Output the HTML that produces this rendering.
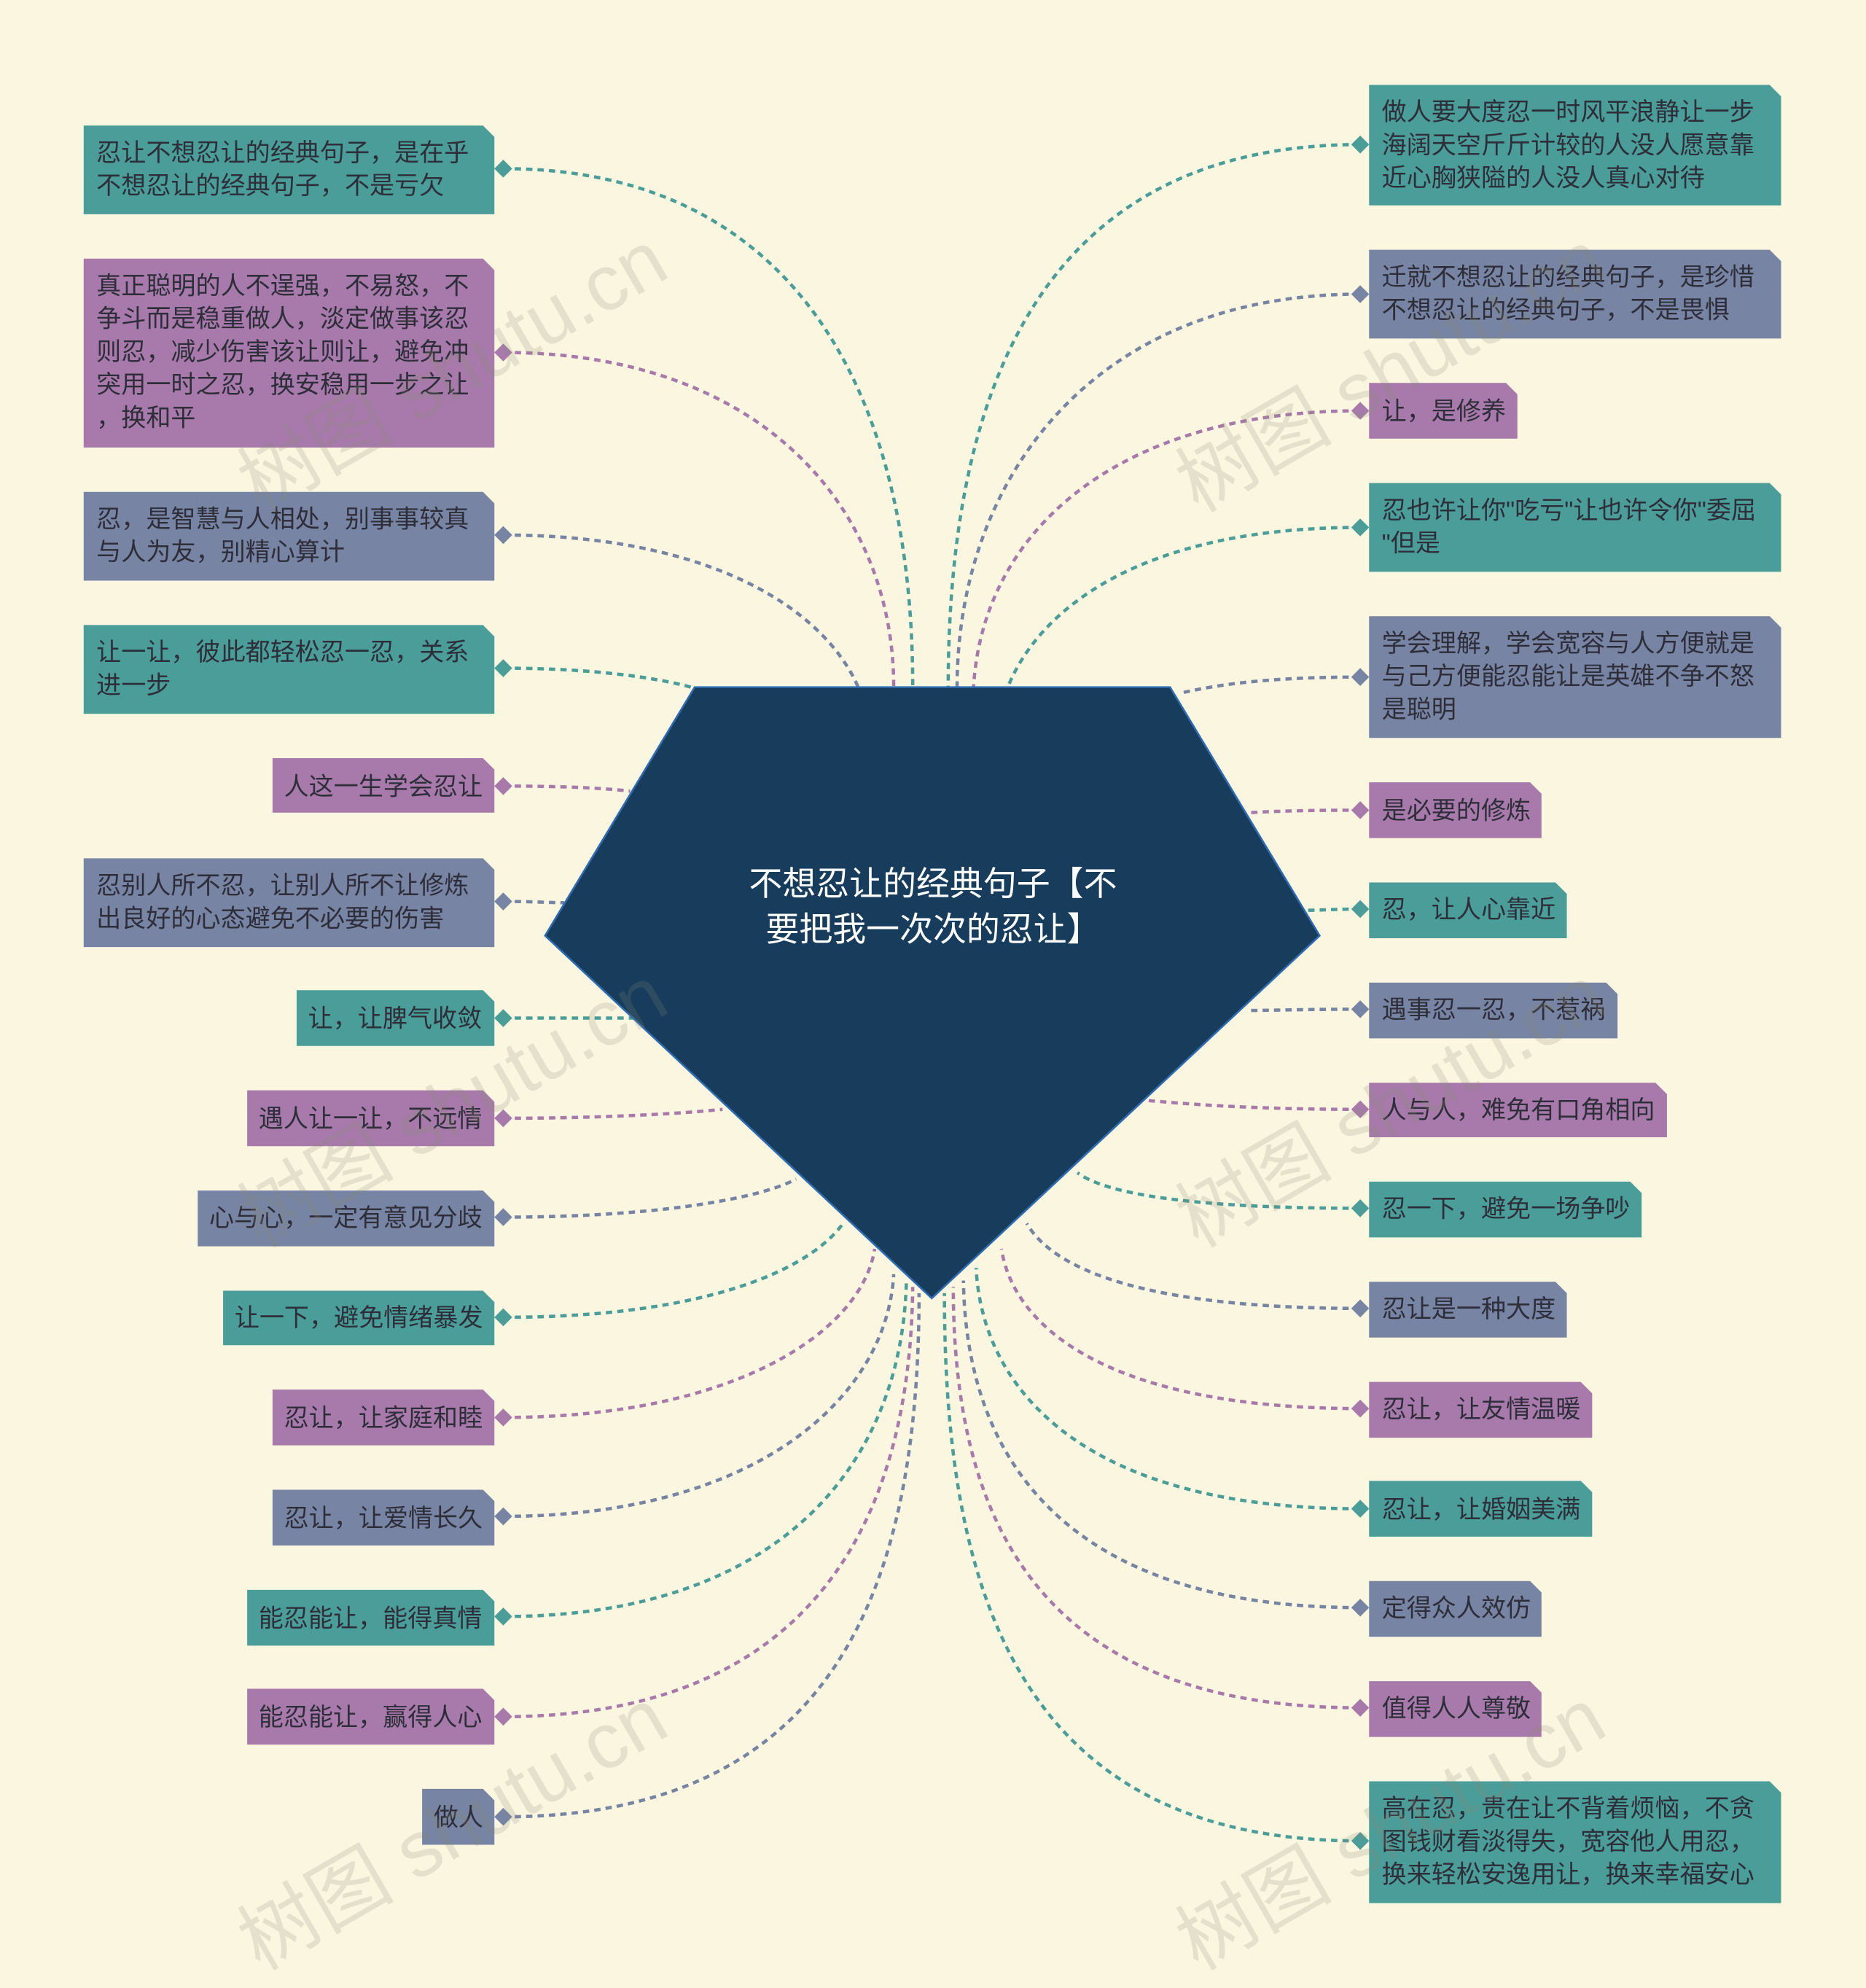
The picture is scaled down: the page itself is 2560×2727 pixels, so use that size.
<!DOCTYPE html>
<html><head><meta charset="utf-8"><style>
html,body{margin:0;padding:0;background:#faf6e0;}
svg{display:block}
text{font-family:"Liberation Sans","Noto Sans CJK SC",sans-serif;}
.t{font-size:19.6px;fill:#2e2e3a;}
</style></head><body>
<svg width="2560" height="2727" viewBox="0 0 1472 1568" xmlns="http://www.w3.org/2000/svg">
<rect width="1472" height="1568" fill="#faf6e0"/>
<g fill="none" stroke-width="2.6" stroke-dasharray="5 4">
<path d="M397,133 C620,133 720,300 720,542" stroke="#4a9d99"/>
<path d="M397,278 C600,278 705,400 705,542" stroke="#a77aab"/>
<path d="M397,422 C560,422 650,480 677,542" stroke="#7784a3"/>
<path d="M397,527 C470,527 520,535 545,542" stroke="#4a9d99"/>
<path d="M397,620 C450,620 480,622 497,624" stroke="#a77aab"/>
<path d="M397,711 C420,711 435,712 445,712" stroke="#7784a3"/>
<path d="M397,803 C450,803 480,803 500,803" stroke="#4a9d99"/>
<path d="M397,882 C480,882 540,878 570,875" stroke="#a77aab"/>
<path d="M397,960 C520,960 600,945 628,930" stroke="#7784a3"/>
<path d="M397,1039 C560,1039 640,1000 665,965" stroke="#4a9d99"/>
<path d="M397,1118 C580,1118 680,1050 690,985" stroke="#a77aab"/>
<path d="M397,1196 C600,1196 700,1100 705,1005" stroke="#7784a3"/>
<path d="M397,1275 C620,1275 712,1150 715,1010" stroke="#4a9d99"/>
<path d="M397,1354 C640,1354 718,1200 720,1015" stroke="#a77aab"/>
<path d="M397,1433 C660,1433 725,1250 725,1020" stroke="#7784a3"/>
<path d="M1073,114 C840,114 748,280 748,542" stroke="#4a9d99"/>
<path d="M1073,232 C860,232 755,380 755,542" stroke="#7784a3"/>
<path d="M1073,324 C880,324 775,420 768,542" stroke="#a77aab"/>
<path d="M1073,416 C900,416 820,480 795,542" stroke="#4a9d99"/>
<path d="M1073,534 C1000,534 960,540 930,547" stroke="#7784a3"/>
<path d="M1073,639 C1030,639 1000,640 985,641" stroke="#a77aab"/>
<path d="M1073,717 C1055,717 1040,718 1030,718" stroke="#4a9d99"/>
<path d="M1073,796 C1030,796 1000,797 985,797" stroke="#7784a3"/>
<path d="M1073,875 C980,875 930,870 905,868" stroke="#a77aab"/>
<path d="M1073,953 C930,953 870,940 850,925" stroke="#4a9d99"/>
<path d="M1073,1032 C900,1032 830,1000 810,965" stroke="#7784a3"/>
<path d="M1073,1111 C880,1111 800,1050 790,985" stroke="#a77aab"/>
<path d="M1073,1190 C860,1190 775,1100 770,1000" stroke="#4a9d99"/>
<path d="M1073,1268 C840,1268 762,1150 760,1010" stroke="#7784a3"/>
<path d="M1073,1347 C820,1347 752,1200 752,1015" stroke="#a77aab"/>
<path d="M1073,1452 C800,1452 745,1250 745,1020" stroke="#4a9d99"/>
</g>
<polygon points="548,542 923,542 1041,738 735,1024 430,738" fill="#173c5c" stroke="#2f6bb0" stroke-width="1.5"/>
<text x="736" y="706" text-anchor="middle" font-size="26.4" fill="#fff">不想忍让的经典句子【不</text>
<text x="736" y="742" text-anchor="middle" font-size="26.4" fill="#fff">要把我一次次的忍让】</text>

<g>
<polygon points="66,99 381,99 390,108 390,169 66,169" fill="#4a9d99"/>
<polygon points="66,204 381,204 390,213 390,353 66,353" fill="#a77aab"/>
<polygon points="66,388 381,388 390,397 390,458 66,458" fill="#7784a3"/>
<polygon points="66,493 381,493 390,502 390,563 66,563" fill="#4a9d99"/>
<polygon points="215,598 381,598 390,607 390,641 215,641" fill="#a77aab"/>
<polygon points="66,677 381,677 390,686 390,747 66,747" fill="#7784a3"/>
<polygon points="234,781 381,781 390,790 390,825 234,825" fill="#4a9d99"/>
<polygon points="195,860 381,860 390,869 390,904 195,904" fill="#a77aab"/>
<polygon points="156,939 381,939 390,948 390,983 156,983" fill="#7784a3"/>
<polygon points="176,1018 381,1018 390,1027 390,1061 176,1061" fill="#4a9d99"/>
<polygon points="215,1096 381,1096 390,1105 390,1140 215,1140" fill="#a77aab"/>
<polygon points="215,1175 381,1175 390,1184 390,1219 215,1219" fill="#7784a3"/>
<polygon points="195,1254 381,1254 390,1263 390,1298 195,1298" fill="#4a9d99"/>
<polygon points="195,1332 381,1332 390,1341 390,1376 195,1376" fill="#a77aab"/>
<polygon points="333,1411 381,1411 390,1420 390,1455 333,1455" fill="#7784a3"/>
<polygon points="1080,67 1396,67 1405,76 1405,162 1080,162" fill="#4a9d99"/>
<polygon points="1080,197 1396,197 1405,206 1405,267 1080,267" fill="#7784a3"/>
<polygon points="1080,302 1188,302 1197,311 1197,346 1080,346" fill="#a77aab"/>
<polygon points="1080,381 1396,381 1405,390 1405,451 1080,451" fill="#4a9d99"/>
<polygon points="1080,486 1396,486 1405,495 1405,582 1080,582" fill="#7784a3"/>
<polygon points="1080,617 1207,617 1216,626 1216,661 1080,661" fill="#a77aab"/>
<polygon points="1080,696 1227,696 1236,705 1236,740 1080,740" fill="#4a9d99"/>
<polygon points="1080,775 1267,775 1276,784 1276,819 1080,819" fill="#7784a3"/>
<polygon points="1080,854 1306,854 1315,863 1315,897 1080,897" fill="#a77aab"/>
<polygon points="1080,932 1286,932 1295,941 1295,976 1080,976" fill="#4a9d99"/>
<polygon points="1080,1011 1227,1011 1236,1020 1236,1055 1080,1055" fill="#7784a3"/>
<polygon points="1080,1090 1247,1090 1256,1099 1256,1134 1080,1134" fill="#a77aab"/>
<polygon points="1080,1168 1247,1168 1256,1177 1256,1212 1080,1212" fill="#4a9d99"/>
<polygon points="1080,1247 1207,1247 1216,1256 1216,1291 1080,1291" fill="#7784a3"/>
<polygon points="1080,1326 1207,1326 1216,1335 1216,1370 1080,1370" fill="#a77aab"/>
<polygon points="1080,1405 1396,1405 1405,1414 1405,1501 1080,1501" fill="#4a9d99"/>
</g>
<g>
<rect x="-5" y="-5" width="10" height="10" transform="translate(397,133) rotate(45)" fill="#4a9d99"/>
<rect x="-5" y="-5" width="10" height="10" transform="translate(397,278) rotate(45)" fill="#a77aab"/>
<rect x="-5" y="-5" width="10" height="10" transform="translate(397,422) rotate(45)" fill="#7784a3"/>
<rect x="-5" y="-5" width="10" height="10" transform="translate(397,527) rotate(45)" fill="#4a9d99"/>
<rect x="-5" y="-5" width="10" height="10" transform="translate(397,620) rotate(45)" fill="#a77aab"/>
<rect x="-5" y="-5" width="10" height="10" transform="translate(397,711) rotate(45)" fill="#7784a3"/>
<rect x="-5" y="-5" width="10" height="10" transform="translate(397,803) rotate(45)" fill="#4a9d99"/>
<rect x="-5" y="-5" width="10" height="10" transform="translate(397,882) rotate(45)" fill="#a77aab"/>
<rect x="-5" y="-5" width="10" height="10" transform="translate(397,960) rotate(45)" fill="#7784a3"/>
<rect x="-5" y="-5" width="10" height="10" transform="translate(397,1039) rotate(45)" fill="#4a9d99"/>
<rect x="-5" y="-5" width="10" height="10" transform="translate(397,1118) rotate(45)" fill="#a77aab"/>
<rect x="-5" y="-5" width="10" height="10" transform="translate(397,1196) rotate(45)" fill="#7784a3"/>
<rect x="-5" y="-5" width="10" height="10" transform="translate(397,1275) rotate(45)" fill="#4a9d99"/>
<rect x="-5" y="-5" width="10" height="10" transform="translate(397,1354) rotate(45)" fill="#a77aab"/>
<rect x="-5" y="-5" width="10" height="10" transform="translate(397,1433) rotate(45)" fill="#7784a3"/>
<rect x="-5" y="-5" width="10" height="10" transform="translate(1073,114) rotate(45)" fill="#4a9d99"/>
<rect x="-5" y="-5" width="10" height="10" transform="translate(1073,232) rotate(45)" fill="#7784a3"/>
<rect x="-5" y="-5" width="10" height="10" transform="translate(1073,324) rotate(45)" fill="#a77aab"/>
<rect x="-5" y="-5" width="10" height="10" transform="translate(1073,416) rotate(45)" fill="#4a9d99"/>
<rect x="-5" y="-5" width="10" height="10" transform="translate(1073,534) rotate(45)" fill="#7784a3"/>
<rect x="-5" y="-5" width="10" height="10" transform="translate(1073,639) rotate(45)" fill="#a77aab"/>
<rect x="-5" y="-5" width="10" height="10" transform="translate(1073,717) rotate(45)" fill="#4a9d99"/>
<rect x="-5" y="-5" width="10" height="10" transform="translate(1073,796) rotate(45)" fill="#7784a3"/>
<rect x="-5" y="-5" width="10" height="10" transform="translate(1073,875) rotate(45)" fill="#a77aab"/>
<rect x="-5" y="-5" width="10" height="10" transform="translate(1073,953) rotate(45)" fill="#4a9d99"/>
<rect x="-5" y="-5" width="10" height="10" transform="translate(1073,1032) rotate(45)" fill="#7784a3"/>
<rect x="-5" y="-5" width="10" height="10" transform="translate(1073,1111) rotate(45)" fill="#a77aab"/>
<rect x="-5" y="-5" width="10" height="10" transform="translate(1073,1190) rotate(45)" fill="#4a9d99"/>
<rect x="-5" y="-5" width="10" height="10" transform="translate(1073,1268) rotate(45)" fill="#7784a3"/>
<rect x="-5" y="-5" width="10" height="10" transform="translate(1073,1347) rotate(45)" fill="#a77aab"/>
<rect x="-5" y="-5" width="10" height="10" transform="translate(1073,1452) rotate(45)" fill="#4a9d99"/>
</g>
<g>
<text class="t" x="76" y="127">忍让不想忍让的经典句子，是在乎</text>
<text class="t" x="76" y="153">不想忍让的经典句子，不是亏欠</text>
<text class="t" x="76" y="232">真正聪明的人不逞强，不易怒，不</text>
<text class="t" x="76" y="258">争斗而是稳重做人，淡定做事该忍</text>
<text class="t" x="76" y="284">则忍，减少伤害该让则让，避免冲</text>
<text class="t" x="76" y="310">突用一时之忍，换安稳用一步之让</text>
<text class="t" x="76" y="336">，换和平</text>
<text class="t" x="76" y="416">忍，是智慧与人相处，别事事较真</text>
<text class="t" x="76" y="442">与人为友，别精心算计</text>
<text class="t" x="76" y="521">让一让，彼此都轻松忍一忍，关系</text>
<text class="t" x="76" y="547">进一步</text>
<text class="t" x="224" y="627">人这一生学会忍让</text>
<text class="t" x="76" y="705">忍别人所不忍，让别人所不让修炼</text>
<text class="t" x="76" y="731">出良好的心态避免不必要的伤害</text>
<text class="t" x="243" y="810">让，让脾气收敛</text>
<text class="t" x="204" y="889">遇人让一让，不远情</text>
<text class="t" x="165" y="967">心与心，一定有意见分歧</text>
<text class="t" x="185" y="1046">让一下，避免情绪暴发</text>
<text class="t" x="224" y="1125">忍让，让家庭和睦</text>
<text class="t" x="224" y="1204">忍让，让爱情长久</text>
<text class="t" x="204" y="1283">能忍能让，能得真情</text>
<text class="t" x="204" y="1361">能忍能让，赢得人心</text>
<text class="t" x="342" y="1440">做人</text>
<text class="t" x="1090" y="95">做人要大度忍一时风平浪静让一步</text>
<text class="t" x="1090" y="121">海阔天空斤斤计较的人没人愿意靠</text>
<text class="t" x="1090" y="147">近心胸狭隘的人没人真心对待</text>
<text class="t" x="1090" y="225">迁就不想忍让的经典句子，是珍惜</text>
<text class="t" x="1090" y="251">不想忍让的经典句子，不是畏惧</text>
<text class="t" x="1090" y="331">让，是修养</text>
<text class="t" x="1090" y="409">忍也许让你"吃亏"让也许令你"委屈</text>
<text class="t" x="1090" y="435">"但是</text>
<text class="t" x="1090" y="514">学会理解，学会宽容与人方便就是</text>
<text class="t" x="1090" y="540">与己方便能忍能让是英雄不争不怒</text>
<text class="t" x="1090" y="566">是聪明</text>
<text class="t" x="1090" y="646">是必要的修炼</text>
<text class="t" x="1090" y="724">忍，让人心靠近</text>
<text class="t" x="1090" y="803">遇事忍一忍，不惹祸</text>
<text class="t" x="1090" y="882">人与人，难免有口角相向</text>
<text class="t" x="1090" y="960">忍一下，避免一场争吵</text>
<text class="t" x="1090" y="1039">忍让是一种大度</text>
<text class="t" x="1090" y="1118">忍让，让友情温暖</text>
<text class="t" x="1090" y="1197">忍让，让婚姻美满</text>
<text class="t" x="1090" y="1275">定得众人效仿</text>
<text class="t" x="1090" y="1354">值得人人尊敬</text>
<text class="t" x="1090" y="1433">高在忍，贵在让不背着烦恼，不贪</text>
<text class="t" x="1090" y="1459">图钱财看淡得失，宽容他人用忍，</text>
<text class="t" x="1090" y="1485">换来轻松安逸用让，换来幸福安心</text>
</g>
<g font-size="62" fill="#8a8a7a" fill-opacity="0.2" style="font-family:'Liberation Serif','Noto Serif CJK SC',serif">
<text x="205" y="405" transform="rotate(-30 205 405)">树图 shutu.cn</text>
<text x="945" y="405" transform="rotate(-30 945 405)">树图 shutu.cn</text>
<text x="205" y="985" transform="rotate(-30 205 985)">树图 shutu.cn</text>
<text x="945" y="985" transform="rotate(-30 945 985)">树图 shutu.cn</text>
<text x="205" y="1555" transform="rotate(-30 205 1555)">树图 shutu.cn</text>
<text x="945" y="1555" transform="rotate(-30 945 1555)">树图 shutu.cn</text>
</g>
</svg>
</body></html>
